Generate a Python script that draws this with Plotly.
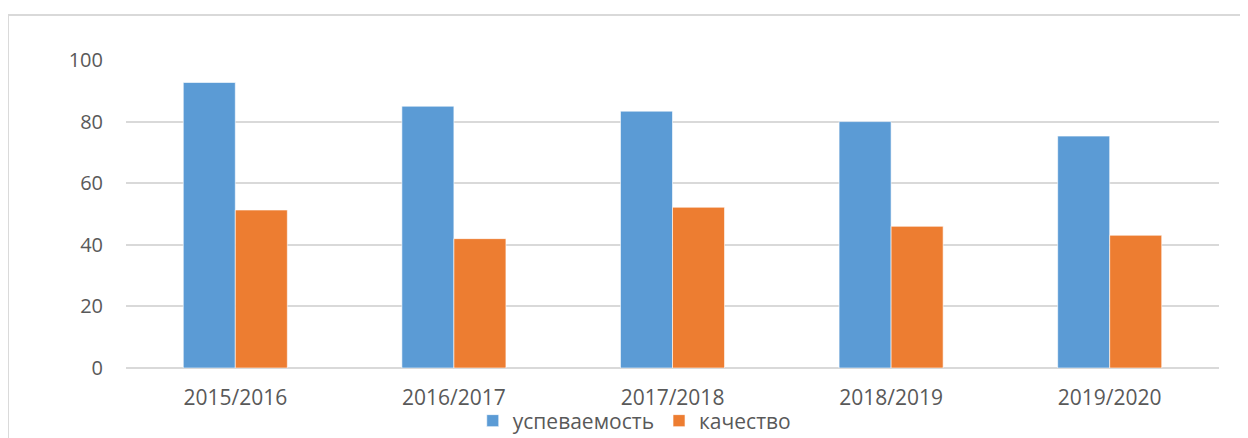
import plotly.graph_objects as go

years = ['2015/2016', '2016/2017', '2017/2018', '2018/2019', '2019/2020']
uspevaemost = [92.7, 85.0, 83.4, 80.0, 75.3]
kachestvo = [51.3, 42.0, 52.2, 46.0, 43.1]
y_ticks = [0, 20, 40, 60, 80, 100]

fig = go.Figure()
fig.add_trace(go.Bar(x=years, y=uspevaemost, name='успеваемость',
                     marker=dict(color='#5B9BD5', line=dict(color='rgba(255,255,255,0.6)', width=1))))
fig.add_trace(go.Bar(x=years, y=kachestvo, name='качество',
                     marker=dict(color='#ED7D31', line=dict(color='rgba(255,255,255,0.6)', width=1))))

# chart frame (light border, runs off the right/bottom of the picture)
fig.add_shape(type='rect', xref='paper', yref='paper',
              x0=-0.108, x1=1.3, y0=-0.5, y1=1.146,
              line=dict(color='#d9d9d9', width=2), layer='below')

# page body has an 8px margin, so the figure is shifted by that much;
# extra room at the bottom is just cut off by the window
fig.update_layout(
    width=1240, height=450,
    margin=dict(l=118, r=29, t=52, b=90),
    paper_bgcolor='white', plot_bgcolor='white',
    barmode='group', bargap=0.524, bargroupgap=0,
    font=dict(family='Open Sans', size=20, color='#595959'),
    showlegend=True,
    legend=dict(orientation='h', x=0.465, xanchor='center', y=-0.172, yanchor='middle',
                bgcolor='rgba(0,0,0,0)',
                font=dict(size=21, color='#595959'), itemwidth=30, tracegroupgap=0),
    xaxis=dict(showgrid=False, showline=False, ticks='', tickfont=dict(size=21),
               ticklabelstandoff=15),
    yaxis=dict(range=[0, 100], tickvals=y_ticks, showgrid=True, gridcolor='#d9d9d9', gridwidth=1.5,
               zeroline=True, zerolinecolor='#d9d9d9', zerolinewidth=1.5,
               ticks='', tickfont=dict(size=20), ticklabelstandoff=22),
)

fig.write_html("out.html")
